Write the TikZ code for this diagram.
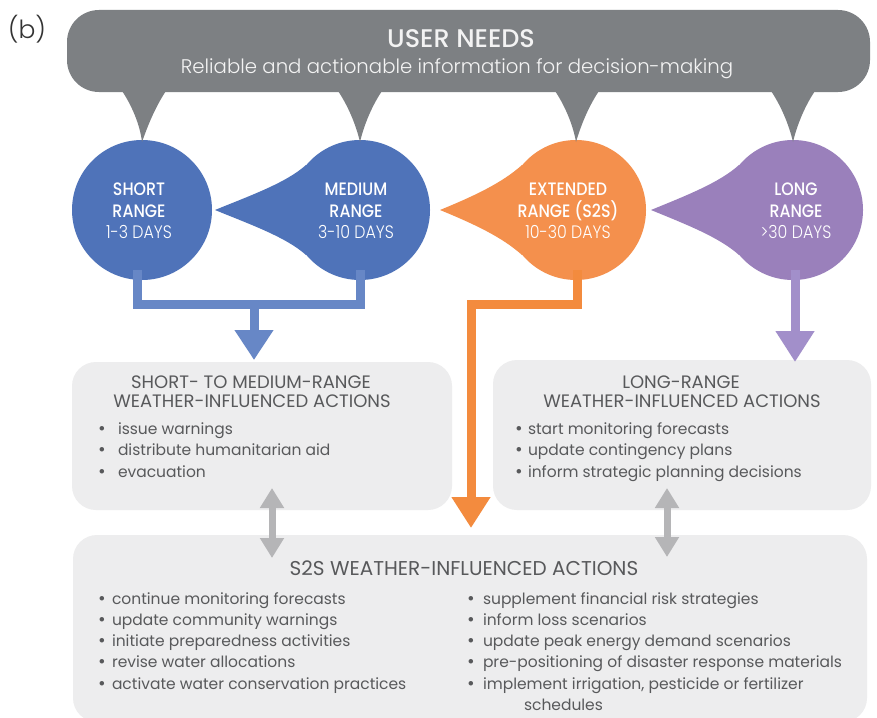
\documentclass[tikz,border=0pt]{standalone}
\usepackage{fontspec}
\setmainfont{Poppins}
\newfontfamily\condf{Poppins}[FakeStretch=0.88]
\newfontfamily\dejavu{DejaVu Sans}
\IfFontExistsTF{Poppins Light}{%
  \newfontfamily\lightf{Poppins Light}%
  \newfontfamily\lightcf{Poppins Light}[FakeStretch=0.88]}{%
  \newfontfamily\lightf{Poppins}%
  \newfontfamily\lightcf{Poppins}[FakeStretch=0.88]}
\IfFontExistsTF{Poppins Medium}{%
  \newfontfamily\medcf{Poppins Medium}[FakeStretch=0.88]%
  \newfontfamily\medf{Poppins Medium}}{%
  \newfontfamily\medcf{Poppins}[FakeStretch=0.88]%
  \newfontfamily\medf{Poppins}}
\usetikzlibrary{arrows.meta,calc}
\definecolor{bannerc}{HTML}{7D8083}
\definecolor{bannertext}{HTML}{F3F3F3}
\definecolor{bluec}{HTML}{4F73B9}
\definecolor{bluea}{HTML}{6787C6}
\definecolor{orangec}{HTML}{F4904D}
\definecolor{orangea}{HTML}{F38B3E}
\definecolor{purplec}{HTML}{9A80BB}
\definecolor{purplea}{HTML}{A28FCA}
\definecolor{boxc}{HTML}{EDEDEE}
\definecolor{textc}{HTML}{58595B}
\definecolor{dblc}{HTML}{B5B5B7}
\newcommand\tdrop[3]{% node, tip distance, colour
  \fill[#3] ($(#1.center)+(-#2,0)$) .. controls ($(#1.center)+(-#2+34,-14)$) and ($(#1.center)+(-74,-27)$) .. ($(#1.center)+(-54,-45)$)
    -- (#1.center) -- ($(#1.center)+(-54,45)$) .. controls ($(#1.center)+(-74,27)$) and ($(#1.center)+(-#2+34,14)$) .. ($(#1.center)+(-#2,0)$) -- cycle;}
\newcommand\tail[2]{% tip x, circle node
  \fill[bannerc] (#1-24,88) .. controls (#1-12,105) and (#1-4,125) .. ($(#2.north)+(0,2)$)
    .. controls (#1+4,125) and (#1+12,105) .. (#1+24,88) -- cycle;}
\newcommand\bul[1]{\llap{{\dejavu •}\hspace{#1}}}
\begin{document}
\begin{tikzpicture}[x=1pt,y=-1pt,
  txt/.style={inner sep=0pt,outer sep=0pt,anchor=base},
  lt/.style={inner sep=0pt,outer sep=0pt,anchor=base west,text=textc,font=\fontsize{15.5}{19}\selectfont},
  rangecirc/.style={circle,minimum size=140pt,inner sep=0pt,outer sep=0pt},
  actbox/.style={rounded corners=24pt,fill=boxc,inner sep=0pt,outer sep=0pt},
  ctitle/.style={txt,text=white,font=\medcf\fontsize{18}{20}\selectfont},
  cdays/.style={txt,text=white,font=\lightcf\fontsize{18}{20}\selectfont},
  btitle/.style={txt,text=textc,font=\fontsize{18}{20}\selectfont},
  feedline/.style={line width=9pt,line join=miter},
  dbl/.style={draw=dblc,line width=7pt,{Triangle[width=23pt,length=20pt]}-{Triangle[width=23pt,length=20pt]}}]
\useasboundingbox (0,0) rectangle (877,717);
\fill[white] (0,0) rectangle (877,717);
% label
\node[txt,font=\lightf\fontsize{25}{28}\selectfont,text=black!80] (lbl) at (27,38) {(b)};
% banner
\node[fill=bannerc,rounded corners=32pt,minimum width=803pt,minimum height=82pt,inner sep=0pt] (needs) at (468.5,51) {};
% circles
\node[rangecirc,fill=bluec] (short) at (142,210) {};
\node[rangecirc,fill=bluec] (medium) at (360,210) {};
\node[rangecirc,fill=orangec] (extended) at (576,210) {};
\node[rangecirc,fill=purplec] (long) at (793,210) {};
\tail{144}{short}
\tail{360}{medium}
\tail{577}{extended}
\tail{793}{long}
\tdrop{medium}{145}{bluec}
\tdrop{extended}{136}{orangec}
\tdrop{long}{142}{purplec}
\node[txt,text=bannertext,font=\medf\fontsize{25.5}{28}\selectfont] (needsT) at (461,48) {USER NEEDS};
\node[txt,text=bannertext,font=\lightf\fontsize{19.7}{22}\selectfont] (needsS) at (457,73) {Reliable and actionable information for decision-making};
% circle texts
\node[ctitle] (sT1) at (139,195) {SHORT};
\node[ctitle] (sT2) at (139,217) {RANGE};
\node[cdays] (sT3) at (139,238) {1-3 DAYS};
\node[ctitle] (mT1) at (356,195) {MEDIUM};
\node[ctitle] (mT2) at (356,217) {RANGE};
\node[cdays] (mT3) at (356,238) {3-10 DAYS};
\node[ctitle] (eT1) at (568,195) {EXTENDED};
\node[ctitle] (eT2) at (568,217) {RANGE (S2S)};
\node[cdays] (eT3) at (568,238) {10-30 DAYS};
\node[ctitle] (lT1) at (796,195) {LONG};
\node[ctitle] (lT2) at (796,217) {RANGE};
\node[cdays] (lT3) at (796,238) {>30 DAYS};
% boxes
\node[actbox,minimum width=380pt,minimum height=148pt] (smbox) at (262,436) {};
\node[actbox,minimum width=378pt,minimum height=150pt] (lrbox) at (682,435) {};
\node[actbox,minimum width=794pt,minimum height=187pt] (s2sbox) at (470,628.5) {};
% connectors
\coordinate (bj) at (254,304);
\draw[feedline,draw=bluea] ($(short.south)+(-5,-10)$) |- (bj) -| ($(medium.south)+(0,-10)$);
\draw[feedline,draw=bluea,-{Triangle[width=37pt,length=30pt]},shorten >=2pt] (bj) -- (bj |- smbox.north);
\coordinate (oj) at (471,304);
\draw[feedline,draw=orangea,-{Triangle[width=37pt,length=31pt]},shorten >=7pt] ($(extended.south)+(1,-10)$) |- (oj) -- (oj |- s2sbox.north);
\draw[feedline,draw=purplea,-{Triangle[width=37pt,length=31pt]},shorten >=-2pt] ($(long.south)+(2,-10)$) -- ($(long.south |- lrbox.north)+(2,0)$);
\coordinate (dl) at (272,0);
\coordinate (dr) at (667,0);
\draw[dbl] ($(dl |- smbox.south)+(0,-22)$) -- ($(dl |- s2sbox.north)+(0,23)$);
\draw[dbl] ($(dr |- lrbox.south)+(0,-22)$) -- ($(dr |- s2sbox.north)+(0,22)$);
% box texts
\node[btitle] (smT1) at (251,388.5) {SHORT- TO MEDIUM-RANGE};
\node[btitle] (smT2) at (252,407) {WEATHER-INFLUENCED ACTIONS};
\node[btitle] (lrT1) at (681,388.5) {LONG-RANGE};
\node[btitle] (lrT2) at (682,407) {WEATHER-INFLUENCED ACTIONS};
\node[btitle,font=\fontsize{20}{22}\selectfont] (s2sT) at (464,575) {S2S WEATHER-INFLUENCED ACTIONS};
\foreach \t [count=\i] in {issue warnings, distribute humanitarian aid, evacuation}
  \node[lt] (sm\i) at (118,{434+21.5*(\i-1)}) {\bul{11.4pt}\t};
\foreach \t [count=\i] in {start monitoring forecasts, update contingency plans, inform strategic planning decisions}
  \node[lt] (lr\i) at (528,{434+21.5*(\i-1)}) {\bul{4.4pt}\t};
\foreach \t [count=\i] in {continue monitoring forecasts, update community warnings, initiate preparedness activities, revise water allocations, activate water conservation practices}
  \node[lt] (sl\i) at (112,{604+21.25*(\i-1)}) {\bul{5.4pt}\t};
\foreach \t [count=\i] in {supplement financial risk strategies, inform loss scenarios, update peak energy demand scenarios, pre-positioning of disaster response materials, {implement irrigation, pesticide or fertilizer}}
  \node[lt] (sr\i) at (483,{604+21.25*(\i-1)}) {\bul{7.4pt}\t};
\node[lt] (sr6) at (524,710) {schedules};
\end{tikzpicture}
\end{document}
